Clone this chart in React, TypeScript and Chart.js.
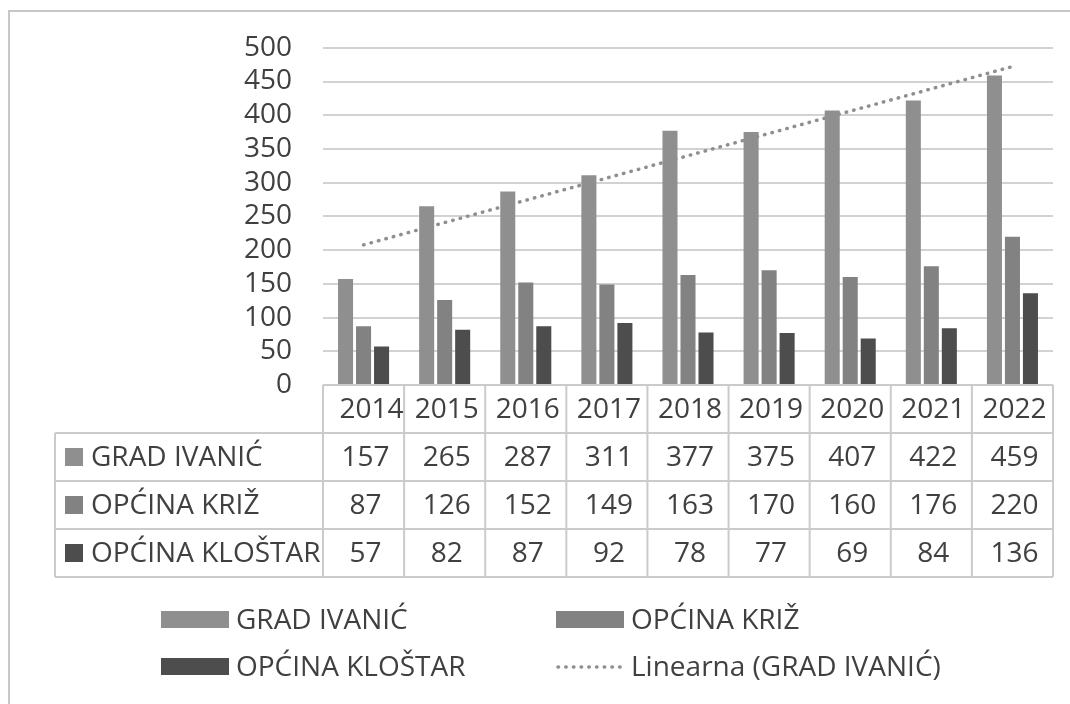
import React, { useEffect, useRef } from "react";
import { Chart, registerables } from "chart.js";

Chart.register(...registerables);

const years = ["2014", "2015", "2016", "2017", "2018", "2019", "2020", "2021", "2022"];
const gradIvanic = [157, 265, 287, 311, 377, 375, 407, 422, 459];
const opcinaKriz = [87, 126, 152, 149, 163, 170, 160, 176, 220];
const opcinaKlostar = [57, 82, 87, 92, 78, 77, 69, 84, 136];
const seriesNames = ["GRAD IVANIĆ", "OPĆINA KRIŽ", "OPĆINA KLOŠTAR"];
const trendName = "Linearna (GRAD IVANIĆ)";
const yMin = 0;
const yMax = 500;
const yStep = 50;

const seriesColors = ["#8f8f8f", "#828282", "#4d4d4d"];
const trendColor = "#8f8f8f";
const textColor = "#404040";
const lineColor = "#cbcbcb";
const FONT = "'Open Sans', 'Noto Sans', sans-serif";
const FS = 28;

// least-squares trendline of GRAD IVANIĆ (as Excel's "Linearna")
function linearTrend(values: number[]): number[] {
  const n = values.length;
  const mx = (n - 1) / 2;
  const my = values.reduce((a, b) => a + b, 0) / n;
  let sxy = 0;
  let sxx = 0;
  values.forEach((v, i) => {
    sxy += (i - mx) * (v - my);
    sxx += (i - mx) * (i - mx);
  });
  const slope = sxy / sxx;
  return values.map((_, i) => my + slope * (i - mx));
}

const allSeries = [gradIvanic, opcinaKriz, opcinaKlostar];

const framePlugin = {
  id: "frame",
  beforeDraw(chart: any) {
    const ctx = chart.ctx;
    ctx.save();
    ctx.strokeStyle = "#c8c8c8";
    ctx.lineWidth = 2;
    ctx.beginPath();
    ctx.moveTo(9, 706);
    ctx.lineTo(9, 11);
    ctx.lineTo(1072, 11);
    ctx.stroke();
    ctx.restore();
  },
};

const tablePlugin = {
  id: "dataTable",
  afterDraw(chart: any) {
    const ctx = chart.ctx;
    const area = chart.chartArea;
    const xs = chart.scales.x;
    const n = years.length;
    const cw = (area.right - area.left) / n;
    const top = area.bottom;
    const rowH = 48;
    const labelLeft = 55;
    ctx.save();
    ctx.strokeStyle = lineColor;
    ctx.lineWidth = 2;
    ctx.beginPath();
    ctx.moveTo(area.left, top);
    ctx.lineTo(area.right, top);
    for (let r = 1; r <= 4; r++) {
      ctx.moveTo(labelLeft, top + r * rowH);
      ctx.lineTo(area.right, top + r * rowH);
    }
    ctx.moveTo(labelLeft, top + rowH);
    ctx.lineTo(labelLeft, top + 4 * rowH);
    for (let i = 0; i <= n; i++) {
      const bx = i < n ? xs.getPixelForValue(i) - cw / 2 : xs.getPixelForValue(n - 1) + cw / 2;
      ctx.moveTo(bx, top);
      ctx.lineTo(bx, top + 4 * rowH);
    }
    ctx.stroke();

    ctx.fillStyle = textColor;
    ctx.font = `${FS}px ${FONT}`;
    ctx.textAlign = "center";
    ctx.textBaseline = "middle";
    years.forEach((y, i) => {
      const cx = xs.getPixelForValue(i) + (i === 0 ? 8 : 2);
      ctx.fillText(y, cx, top + rowH / 2 + 1);
    });
    allSeries.forEach((vals, r) => {
      const cy = top + rowH * (r + 1) + rowH / 2 + 1;
      vals.forEach((v, i) => {
        ctx.fillText(String(v), xs.getPixelForValue(i) + 2, cy);
      });
      ctx.fillStyle = seriesColors[r];
      ctx.fillRect(65, cy - 10, 18, 18);
      ctx.fillStyle = textColor;
      ctx.textAlign = "left";
      ctx.fillText(seriesNames[r], 91, cy);
      ctx.textAlign = "center";
    });
    ctx.restore();
  },
};

const legendPlugin = {
  id: "customLegend",
  afterDraw(chart: any) {
    const ctx = chart.ctx;
    ctx.save();
    ctx.font = `${FS}px ${FONT}`;
    ctx.textBaseline = "middle";
    ctx.textAlign = "left";
    const items = [
      { kind: "box", color: seriesColors[0], label: seriesNames[0], x: 161, y: 620 },
      { kind: "box", color: seriesColors[1], label: seriesNames[1], x: 556, y: 620 },
      { kind: "box", color: seriesColors[2], label: seriesNames[2], x: 161, y: 667 },
      { kind: "dots", color: trendColor, label: trendName, x: 556, y: 667 },
    ];
    items.forEach((it) => {
      if (it.kind === "box") {
        ctx.fillStyle = it.color;
        ctx.fillRect(it.x, it.y - 9, 68, 17);
      } else {
        ctx.strokeStyle = it.color;
        ctx.lineWidth = 3.5;
        ctx.lineCap = "round";
        ctx.setLineDash([0.5, 7.2]);
        ctx.beginPath();
        ctx.moveTo(it.x + 2, it.y);
        ctx.lineTo(it.x + 66, it.y);
        ctx.stroke();
        ctx.setLineDash([]);
      }
      ctx.fillStyle = textColor;
      ctx.fillText(it.label, it.x + 75, it.y + 1);
    });
    ctx.restore();
  },
};

export default function App() {
  const ref = useRef<HTMLCanvasElement | null>(null);
  useEffect(() => {
    document.body.style.overflow = "hidden";
    const canvas = ref.current;
    if (!canvas) return;
    const chart = new Chart(canvas, {
      type: "bar",
      data: {
        labels: years,
        datasets: [
          ...allSeries.map((vals, i) => ({
            type: "bar" as const,
            label: seriesNames[i],
            data: vals,
            backgroundColor: seriesColors[i],
            borderWidth: 0,
            categoryPercentage: 0.666,
            barPercentage: 0.835,
            order: 1,
          })),
          {
            type: "line" as const,
            label: trendName,
            data: linearTrend(gradIvanic),
            borderColor: trendColor,
            borderWidth: 3.5,
            borderDash: [0.5, 7.2],
            borderCapStyle: "round",
            pointRadius: 0,
            fill: false,
            tension: 0,
            order: 0,
          } as any,
        ],
      },
      options: {
        animation: false,
        responsive: false,
        devicePixelRatio: 1,
        layout: { padding: { left: 223, right: 17, top: 44, bottom: 319 } },
        plugins: {
          legend: { display: false },
          tooltip: { enabled: false },
          title: { display: false },
        },
        scales: {
          x: { type: "category", display: false, offset: true },
          y: {
            min: yMin,
            max: yMax,
            ticks: {
              stepSize: yStep,
              padding: 31,
              autoSkip: false,
              color: textColor,
              font: { family: FONT, size: FS },
            },
            grid: { color: "#d2d2d2", lineWidth: 2, drawTicks: false },
            border: { display: false },
            afterFit: (s: any) => {
              s.width = 100;
            },
          },
        },
      },
      plugins: [framePlugin, tablePlugin, legendPlugin],
    });
    return () => chart.destroy();
  }, []);
  return (
    <canvas
      ref={ref}
      width={1070}
      height={704}
      style={{ position: "fixed", left: 0, top: 0, width: 1070, height: 704, display: "block" }}
    />
  );
}
